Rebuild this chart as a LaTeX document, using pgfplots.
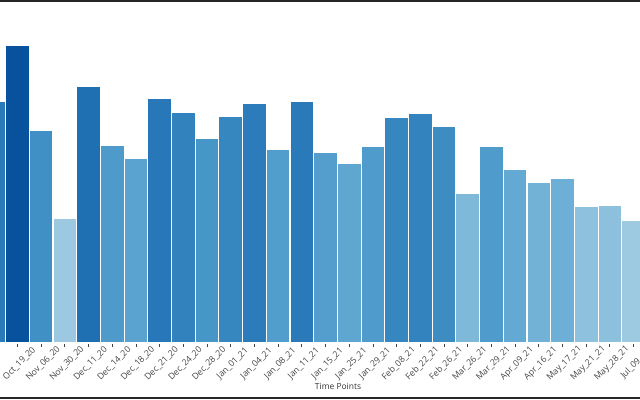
\documentclass[border=0pt]{standalone}
\usepackage{pgfplots}
\pgfplotsset{compat=1.18}
\usepackage{fontspec}
\setmainfont{Open Sans}
\definecolor{c0}{RGB}{42,122,186}
\definecolor{c1}{RGB}{8,81,156}
\definecolor{c2}{RGB}{64,144,197}
\definecolor{c3}{RGB}{156,201,225}
\definecolor{c4}{RGB}{31,111,179}
\definecolor{c5}{RGB}{78,154,203}
\definecolor{c6}{RGB}{90,162,207}
\definecolor{c7}{RGB}{40,120,185}
\definecolor{c8}{RGB}{50,130,190}
\definecolor{c9}{RGB}{71,150,200}
\definecolor{c10}{RGB}{54,134,192}
\definecolor{c11}{RGB}{44,124,187}
\definecolor{c12}{RGB}{81,157,204}
\definecolor{c13}{RGB}{42,122,186}
\definecolor{c14}{RGB}{84,158,205}
\definecolor{c15}{RGB}{95,166,209}
\definecolor{c16}{RGB}{79,155,203}
\definecolor{c17}{RGB}{54,134,192}
\definecolor{c18}{RGB}{51,131,190}
\definecolor{c19}{RGB}{61,141,195}
\definecolor{c20}{RGB}{127,185,218}
\definecolor{c21}{RGB}{79,155,203}
\definecolor{c22}{RGB}{100,169,211}
\definecolor{c23}{RGB}{114,178,215}
\definecolor{c24}{RGB}{109,175,214}
\definecolor{c25}{RGB}{142,193,222}
\definecolor{c26}{RGB}{140,192,221}
\definecolor{c27}{RGB}{158,202,225}
\definecolor{axgray}{RGB}{68,68,68}
\begin{document}
\begin{tikzpicture}[x=1cm,y=1cm]
\begin{axis}[
  at={(0cm,1.425cm)}, anchor=origin,
  scale only axis,
  width=16cm, height=8.575cm,
  xmin=0.262, xmax=27.27,
  ymin=0, ymax=343,
  axis x line*=bottom, axis y line=none,
  axis line style={axgray, line width=0.7pt},
  clip=false,
  ybar, bar width=0.5925cm, bar shift=0pt,
  every axis plot/.append style={draw=white, line width=0.8pt},
  xtick={0,...,27},
  xticklabels={Oct\_16\_20,Oct\_19\_20,Nov\_06\_20,Nov\_30\_20,Dec\_11\_20,Dec\_14\_20,Dec\_18\_20,Dec\_21\_20,Dec\_24\_20,Dec\_28\_20,Jan\_01\_21,Jan\_04\_21,Jan\_08\_21,Jan\_11\_21,Jan\_15\_21,Jan\_25\_21,Jan\_29\_21,Feb\_08\_21,Feb\_22\_21,Feb\_26\_21,Mar\_26\_21,Mar\_29\_21,Apr\_09\_21,Apr\_16\_21,May\_17\_21,May\_21\_21,May\_28\_21,Jul\_09\_21},
  xticklabel style={xshift=0.05cm, yshift=-0.41cm, rotate=45, anchor=center, font=\fontsize{6.2}{7}\selectfont, text=axgray, inner sep=0pt},
  major tick length=3pt,
  tick style={axgray, line width=0.6pt},
  xtick pos=bottom, tick align=outside,
]
\addplot[fill=c0] coordinates {(0,242)};
\addplot[fill=c1] coordinates {(1,298)};
\addplot[fill=c2] coordinates {(2,213)};
\addplot[fill=c3] coordinates {(3,125)};
\addplot[fill=c4] coordinates {(4,257)};
\addplot[fill=c5] coordinates {(5,198)};
\addplot[fill=c6] coordinates {(6,185)};
\addplot[fill=c7] coordinates {(7,245)};
\addplot[fill=c8] coordinates {(8,231)};
\addplot[fill=c9] coordinates {(9,205)};
\addplot[fill=c10] coordinates {(10,227)};
\addplot[fill=c11] coordinates {(11,240)};
\addplot[fill=c12] coordinates {(12,194)};
\addplot[fill=c13] coordinates {(13,242)};
\addplot[fill=c14] coordinates {(14,191)};
\addplot[fill=c15] coordinates {(15,180)};
\addplot[fill=c16] coordinates {(16,197)};
\addplot[fill=c17] coordinates {(17,226)};
\addplot[fill=c18] coordinates {(18,230)};
\addplot[fill=c19] coordinates {(19,217)};
\addplot[fill=c20] coordinates {(20,150)};
\addplot[fill=c21] coordinates {(21,197)};
\addplot[fill=c22] coordinates {(22,174)};
\addplot[fill=c23] coordinates {(23,161)};
\addplot[fill=c24] coordinates {(24,165)};
\addplot[fill=c25] coordinates {(25,137)};
\addplot[fill=c26] coordinates {(26,138)};
\addplot[fill=c27] coordinates {(27,123)};
\end{axis}
\node[font=\fontsize{6}{7}\selectfont, text=black!80] at (8.45cm,0.33cm) {Time Points};
\draw[line width=1.5pt, black!85] (0,9.975cm) -- (16cm,9.975cm);
\draw[line width=1.5pt, black!85] (0,0.04cm) -- (16cm,0.04cm);
\pgfresetboundingbox
\useasboundingbox (0,0) rectangle (16cm,10cm);
\end{tikzpicture}
\end{document}
